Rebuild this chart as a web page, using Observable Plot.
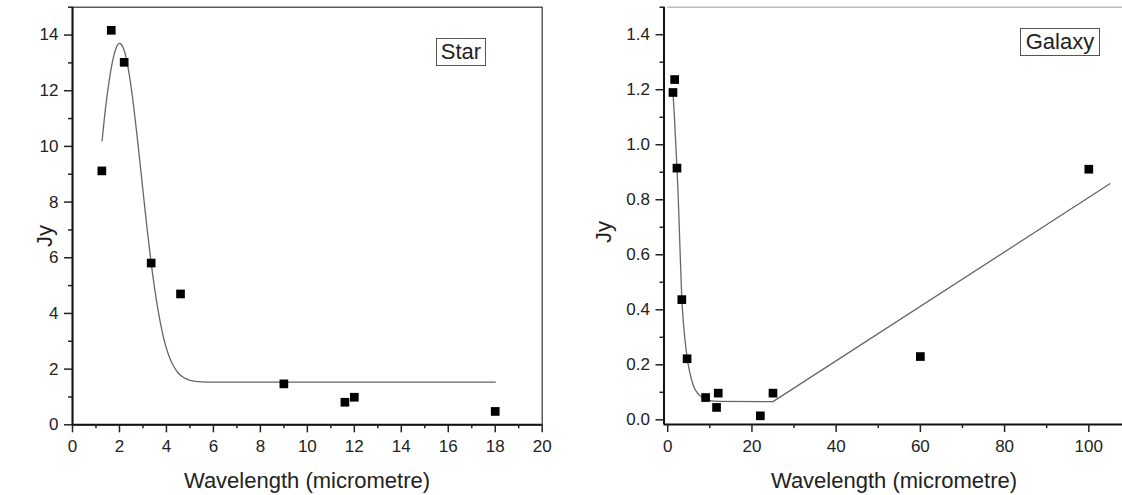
<!DOCTYPE html>
<html>
<head>
<meta charset="utf-8">
<script src="https://cdn.jsdelivr.net/npm/d3@7"></script>
<script src="https://cdn.jsdelivr.net/npm/@observablehq/plot@0.6"></script>
<style>
  body { margin: 0; background: #fff; }
  #wrap { position: relative; width: 1122px; height: 495px; overflow: hidden;
          font-family: "Liberation Sans", Arial, sans-serif; color: #222; }
  .panel { position: absolute; top: 0; }
  .legend { position: absolute; box-sizing: border-box; border: 1px solid #555;
            font-size: 22px; line-height: 26px; text-align: center; color: #222; background: #fff; }
  .title { position: absolute; font-size: 22px; line-height: 22px; white-space: nowrap; color: #222; }
</style>
</head>
<body>
<div id="wrap"></div>
<script>
// ---------- Data ----------
const starWavelength = [1.25, 1.65, 2.2, 3.35, 4.6, 9, 11.6, 12, 18];
const starFlux       = [9.12, 14.17, 13.02, 5.81, 4.70, 1.47, 0.81, 0.99, 0.48];

const starFitWavelength = [1.26, 1.4, 1.55, 1.7, 1.85, 2.01, 2.15, 2.3, 2.45, 2.6, 2.75, 2.9, 3.05, 3.2, 3.35, 3.5, 3.65, 3.8, 3.95, 4.1, 4.3, 4.5, 4.75, 5.0, 5.5, 6.0, 18];
const starFitFlux       = [10.2, 11.33, 12.29, 13.04, 13.52, 13.7, 13.56, 13.12, 12.4, 11.47, 10.38, 9.21, 8.02, 6.87, 5.81, 4.88, 4.08, 3.42, 2.89, 2.49, 2.11, 1.86, 1.69, 1.6, 1.54, 1.53, 1.53];

const galaxyWavelength = [1.25, 1.65, 2.2, 3.35, 4.6, 9, 11.6, 12, 22, 25, 60, 100];
const galaxyFlux       = [1.19, 1.237, 0.915, 0.437, 0.222, 0.081, 0.045, 0.097, 0.0145, 0.097, 0.230, 0.911];

const galaxyFitWavelength = [1.25, 1.6, 2.2, 2.53, 2.9, 3.35, 3.8, 4.3, 4.66, 5.2, 6.1, 7.0, 7.7, 8.7, 10, 12, 25];
const galaxyFitFlux       = [1.19, 1.10, 0.915, 0.797, 0.63, 0.44, 0.34, 0.264, 0.222, 0.175, 0.124, 0.099, 0.087, 0.077, 0.070, 0.067, 0.066];
const galaxyTrendWavelength = [25, 105];
const galaxyTrendFlux       = [0.066, 0.858];

// ---------- Axes ----------
const starXDomain = [0, 20];
const starYDomain = [0, 15];
const starXTicks = [0, 2, 4, 6, 8, 10, 12, 14, 16, 18, 20];
const starXMinor = [1, 3, 5, 7, 9, 11, 13, 15, 17, 19];
const starYTicks = [0, 2, 4, 6, 8, 10, 12, 14];
const starYMinor = [1, 3, 5, 7, 9, 11, 13, 15];

const galaxyXDomain = [-0.88, 108];
const galaxyYDomain = [-0.017, 1.5];
const galaxyXTicks = [0, 20, 40, 60, 80, 100];
const galaxyXMinor = [10, 30, 50, 70, 90];
const galaxyYTicks = [0, 0.2, 0.4, 0.6, 0.8, 1.0, 1.2, 1.4];
const galaxyYMinor = [0.1, 0.3, 0.5, 0.7, 0.9, 1.1, 1.3, 1.5];

const xTitle = "Wavelength (micrometre)";
const yTitle = "Jy";
const legendLabels = ["Star", "Galaxy"];

const zip = (xs, ys) => xs.map((x, i) => ({x, y: ys[i]}));
const star = zip(starWavelength, starFlux);
const starFit = zip(starFitWavelength, starFitFlux);
const galaxy = zip(galaxyWavelength, galaxyFlux);
const galaxyFit = zip(galaxyFitWavelength, galaxyFitFlux);
const galaxyTrend = zip(galaxyTrendWavelength, galaxyTrendFlux);

const font = "'Liberation Sans', Arial, sans-serif";
const tickFont = 17;
const ink = "#222";

const left = Plot.plot({
  width: 560, height: 495,
  marginLeft: 72, marginRight: 18.3, marginTop: 6.7, marginBottom: 70.7,
  x: {domain: starXDomain},
  y: {domain: starYDomain},
  style: {fontFamily: font, fontSize: tickFont + "px", color: ink, background: "transparent", overflow: "visible"},
  marks: [
    Plot.frame({stroke: "#333", strokeWidth: 1.2}),
    Plot.ruleX([starXDomain[0]], {stroke: "#111", strokeWidth: 2}),
    Plot.ruleY([starYDomain[0]], {stroke: "#111", strokeWidth: 2}),
    Plot.axisX({ticks: starXTicks, tickSize: 8, tickPadding: 7, strokeWidth: 1.5, label: null, fontSize: tickFont}),
    Plot.axisX({ticks: starXMinor, tickSize: 4, strokeWidth: 1.5, text: null, label: null}),
    Plot.axisY({ticks: starYTicks, tickSize: 8, tickPadding: 6, strokeWidth: 1.5, label: null, fontSize: tickFont}),
    Plot.axisY({ticks: starYMinor, tickSize: 4, strokeWidth: 1.5, text: null, label: null}),
    Plot.line(starFit, {x: "x", y: "y", curve: "monotone-x", stroke: "#666", strokeWidth: 1.3}),
    Plot.dot(star, {x: "x", y: "y", symbol: "square", r: 4.9, fill: "#000", stroke: "none"})
  ]
});

const right = Plot.plot({
  width: 562, height: 495,
  marginLeft: 103.5, marginRight: 0, marginTop: 6.7, marginBottom: 71,
  x: {domain: galaxyXDomain},
  y: {domain: galaxyYDomain},
  style: {fontFamily: font, fontSize: tickFont + "px", color: ink, background: "transparent", overflow: "visible"},
  marks: [
    Plot.ruleY([galaxyYDomain[1]], {x1: 0, x2: galaxyXDomain[1], stroke: "#bbb", strokeWidth: 1.5}),
    Plot.ruleX([galaxyXDomain[0]], {stroke: "#111", strokeWidth: 2}),
    Plot.ruleY([galaxyYDomain[0]], {stroke: "#111", strokeWidth: 2}),
    Plot.axisX({ticks: galaxyXTicks, tickSize: 8, tickPadding: 7, strokeWidth: 1.5, label: null, fontSize: tickFont}),
    Plot.axisX({ticks: galaxyXMinor, tickSize: 4, strokeWidth: 1.5, text: null, label: null}),
    Plot.axisY({ticks: galaxyYTicks, tickSize: 8, tickPadding: 6, strokeWidth: 1.5, label: null, fontSize: tickFont, tickFormat: d3.format(".1f")}),
    Plot.axisY({ticks: galaxyYMinor, tickSize: 4, strokeWidth: 1.5, text: null, label: null}),
    Plot.line(galaxyFit, {x: "x", y: "y", curve: "monotone-x", stroke: "#666", strokeWidth: 1.3}),
    Plot.line(galaxyTrend, {x: "x", y: "y", curve: "linear", stroke: "#666", strokeWidth: 1.3}),
    Plot.dot(galaxy, {x: "x", y: "y", symbol: "square", r: 4.9, fill: "#000", stroke: "none"})
  ]
});

const wrap = document.getElementById("wrap");
left.classList.add("panel"); left.style.left = "0px";
right.classList.add("panel"); right.style.left = "560px";
wrap.appendChild(left);
wrap.appendChild(right);

function title(text, cx, cy, rotate) {
  const d = document.createElement("div");
  d.className = "title";
  d.textContent = text;
  Object.assign(d.style, {left: cx + "px", top: cy + "px",
    transform: "translate(-50%, -50%)" + (rotate ? " rotate(-90deg)" : "")});
  wrap.appendChild(d);
}
title(xTitle, 307, 481, false);
title(xTitle, 894, 481, false);
title(yTitle, 45, 236, true);
title(yTitle, 604, 232, true);

function legend(text, x, y, w, h) {
  const d = document.createElement("div");
  d.className = "legend";
  d.textContent = text;
  Object.assign(d.style, {left: x + "px", top: y + "px", width: w + "px", height: h + "px"});
  wrap.appendChild(d);
}
legend(legendLabels[0], 436, 37.7, 50, 28.3);
legend(legendLabels[1], 1020, 27.7, 80, 28.3);
</script>
</body>
</html>
